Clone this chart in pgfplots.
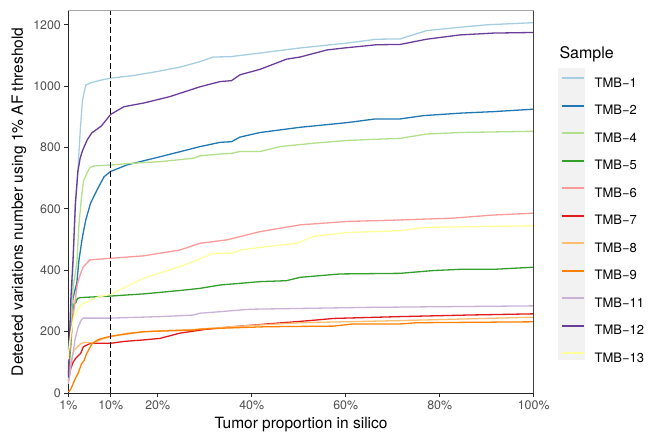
\documentclass[border=0pt]{standalone}
\usepackage{fontspec}
\setmainfont{TeX Gyre Heros}
\usepackage{pgfplots}
\pgfplotsset{compat=1.18}
\definecolor{cA}{HTML}{A6CEE3}
\definecolor{cB}{HTML}{1F78B4}
\definecolor{cC}{HTML}{B2DF8A}
\definecolor{cD}{HTML}{33A02C}
\definecolor{cE}{HTML}{FB9A99}
\definecolor{cF}{HTML}{E31A1C}
\definecolor{cG}{HTML}{FDBF6F}
\definecolor{cH}{HTML}{FF7F00}
\definecolor{cI}{HTML}{CAB2D6}
\definecolor{cJ}{HTML}{6A3D9A}
\definecolor{cK}{HTML}{FFFF99}
\definecolor{legbg}{HTML}{F2F2F2}
\definecolor{ticktxt}{HTML}{4D4D4D}
\begin{document}
\begin{tikzpicture}[x=1bp,y=1bp]
\path[use as bounding box] (0,0) rectangle (649,433);
\fill[legbg] (558,73) rectangle (585,364.6);
\node[anchor=base west, inner sep=0pt, font=\fontsize{16bp}{18bp}\selectfont] at (559.3,374.7) {Sample};
\begin{axis}[
  at={(68.4bp,40bp)}, anchor=south west, scale only axis,
  width=465.3bp, height=382.3bp,
  xmin=1, xmax=100, ymin=0, ymax=1246,
  clip=false,
  xtick={1,10,20,40,60,80,100},
  xticklabels={1\%,10\%,20\%,40\%,60\%,80\%,100\%},
  ytick={0,200,400,600,800,1000,1200},
  axis x line*=bottom, axis y line*=left,
  axis line style={black!85, line width=0.8bp, -},
  tick style={black!85, line width=0.8bp},
  tick align=outside, major tick length=4bp,
  ticklabel style={font=\fontsize{12.4bp}{14bp}\selectfont, text=ticktxt},
  /pgf/number format/assume math mode=true,
  /pgf/number format/1000 sep={},
  xlabel={Tumor proportion in silico},
  ylabel={Detected variations number using 1\% AF threshold},
  label style={font=\fontsize{15.5bp}{17bp}\selectfont},
  xlabel style={at={(axis description cs:0.5,-0.0923)}, anchor=base, inner sep=0pt},
  ylabel style={at={(axis description cs:-0.0976,0.5)}, anchor=base, inner sep=0pt},
  every axis plot/.append style={line width=1.3bp},
  legend style={at={(axis description cs:1.058,0.8264)}, anchor=north west,
    draw=none, fill=none, inner sep=0pt, outer sep=0pt,
    row sep=17.2bp, column sep=10bp,
    font=\fontsize{13bp}{15bp}\selectfont,
    nodes={inner sep=0pt, text height=9.3bp, text depth=0pt}},
  legend cell align=left,
  legend image code/.code={\draw[#1, line width=2bp] (0bp,4.65bp) -- (22bp,4.65bp);},
]
\addplot[cA] coordinates {(1,80) (2,420) (2.4,597) (2.9,694) (3.5,850) (4,955) (4.7,1004) (6,1012) (8,1020) (10,1026) (15,1035) (20,1048) (25,1063) (29,1080) (31.8,1095) (35.4,1096) (41.8,1108) (50,1124) (60,1140) (66.6,1153) (71.6,1154) (77.2,1181) (84.3,1192) (90,1200) (100,1207)};
\addlegendentry{TMB−1}
\addplot[cB] coordinates {(1,140) (1.5,240) (2,310) (2.8,360) (3.25,434) (4,510) (4.7,564) (5.7,618) (7.1,662) (8.6,705) (10,722) (13.4,743) (20.5,770) (26.2,792) (29,803) (33.3,817) (35.7,819) (37.5,834) (41.8,849) (50.3,866) (60.2,881) (66.2,893) (71.5,893) (76.5,904) (84.3,912) (91.4,917) (100,925)};
\addlegendentry{TMB−2}
\addplot[cC] coordinates {(1,90) (1.5,230) (2.05,350) (2.8,423) (3.25,550) (3.8,640) (4.2,690) (4.9,716) (5.6,735) (6.4,740) (10,743) (14.8,749) (20.5,754) (27.6,765) (29,773) (33.3,779) (35.7,781) (37.5,787) (41.8,787) (46,803) (53.1,814) (60.2,823) (71.6,830) (77.2,844) (84.3,849) (100,853)};
\addlegendentry{TMB−4}
\addplot[cD] coordinates {(1,60) (1.5,151) (1.8,227) (2.2,290) (2.6,295) (2.9,308) (3.6,311) (10,316) (17,323) (24.7,334) (29,341) (33.3,352) (41.8,363) (47.4,366) (50.3,377) (58.8,388) (71.6,390) (78.6,399) (84.3,403) (91.4,403) (100,410)};
\addlegendentry{TMB−5}
\addplot[cE] coordinates {(1,80) (1.5,170) (2,250) (2.9,355) (3.6,390) (4.2,412) (5.6,434) (10,439) (17,447) (24.7,466) (29,488) (34.7,499) (41.8,526) (50.3,548) (60.2,559) (71.6,564) (82.9,570) (91.4,580) (100,586)};
\addlegendentry{TMB−6}
\addplot[cF] coordinates {(1,40) (1.5,80) (2,100) (2.55,113) (3.6,129) (4.2,151) (5.7,162) (10,162) (12.8,168) (17,173) (20.5,178) (24.7,195) (30,207) (36,216) (43.2,225) (52.4,236) (57.4,243) (71.6,249) (85.8,254) (100,258)};
\addlegendentry{TMB−7}
\addplot[cG] coordinates {(1,40) (1.5,100) (2.2,140) (3.6,160) (4.5,165) (6.3,163) (8,175) (10.1,184) (13.4,195) (20.5,203) (27.6,207) (39.6,220) (50.3,229) (71.6,236) (100,247)};
\addlegendentry{TMB−8}
\addplot[cH] coordinates {(1,3) (1.5,12) (2,30) (2.5,48) (3,62) (3.8,95) (4.3,105) (4.9,129) (5.7,151) (6,160) (7.1,172) (7.7,176) (10,185) (17,200) (27.6,205) (29,208) (33.3,211) (43.2,216) (57.4,218) (61.6,225) (71.6,225) (75.1,229) (100,232)};
\addlegendentry{TMB−9}
\addplot[cI] coordinates {(1,30) (1.5,86) (2.2,151) (2.4,173) (2.9,205) (3.1,216) (3.8,240) (4.2,244) (10,244) (20.5,249) (27.6,254) (29,260) (33.3,265) (39.6,273) (64.5,279) (100,284)};
\addlegendentry{TMB−11}
\addplot[cJ] coordinates {(1,50) (1.5,300) (2,440) (2.5,620) (3,720) (3.5,765) (4,790) (5,825) (6,848) (8,870) (10,908) (12.8,933) (17,945) (22.6,966) (29,998) (33.3,1015) (35.7,1018) (37.5,1037) (41.8,1055) (47.4,1088) (50.3,1095) (56,1118) (60,1125) (66.6,1135) (71.6,1136) (77.2,1153) (84.3,1167) (91.4,1173) (100,1175)};
\addlegendentry{TMB−12}
\addplot[cK] coordinates {(1,110) (1.1,140) (1.5,195) (2.2,250) (3.5,285) (4,290) (7.1,312) (10,322) (17,374) (24.7,412) (29,437) (31.8,455) (35.7,455) (37.5,466) (43.2,477) (49.6,488) (53.1,510) (60.2,523) (71.6,529) (77.2,540) (100,545)};
\addlegendentry{TMB−13}
\addplot[black, line width=1.4bp, dash pattern=on 5.5bp off 3.5bp, forget plot] coordinates {(10,0) (10,1246)};
\draw[black!35, line width=0.8bp] (rel axis cs:0,1) -- (rel axis cs:1,1);
\draw[black!75, line width=0.8bp] (rel axis cs:1,0) -- (rel axis cs:1,1);
\end{axis}
\end{tikzpicture}
\end{document}
